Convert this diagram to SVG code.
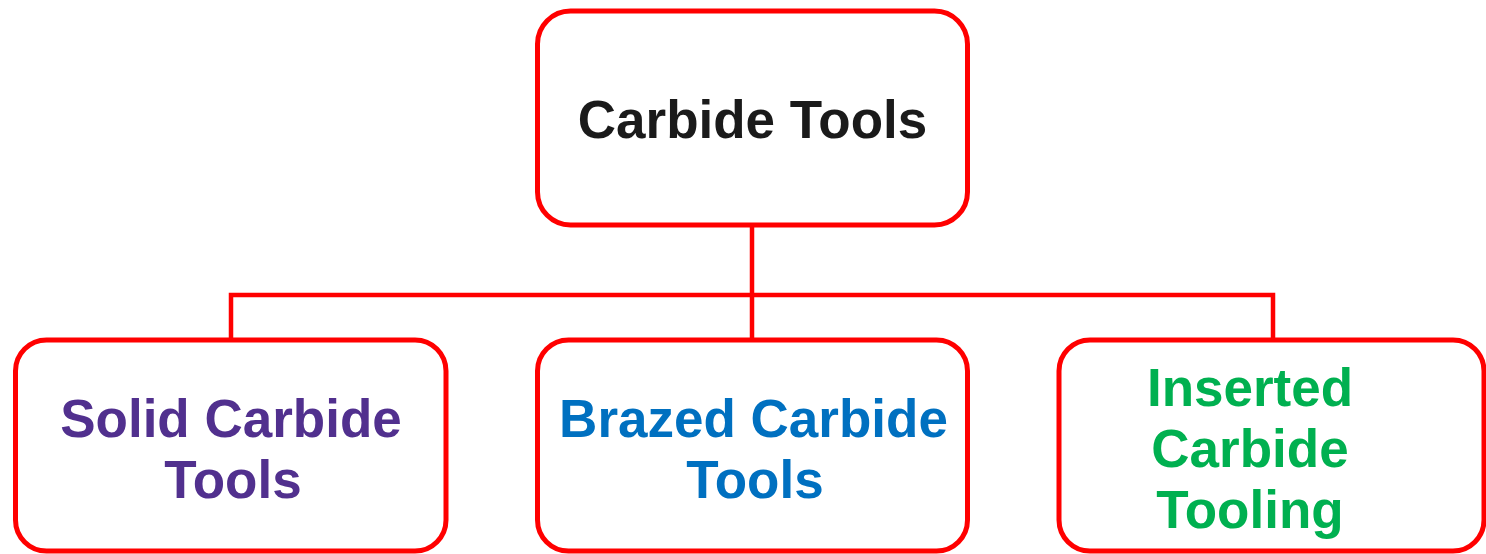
<svg xmlns="http://www.w3.org/2000/svg" width="1486" height="554" viewBox="0 0 1486 554">
<style>
.box{fill:#FFFFFF;stroke:#FF0000;stroke-width:5}
.conn{fill:none;stroke:#FF0000;stroke-width:4.5;stroke-linejoin:miter}
.t{font-family:"Liberation Sans",Arial,sans-serif;font-weight:bold;font-size:53px;text-anchor:middle}
</style>
<rect width="1486" height="554" fill="#FFFFFF"/>
<g id="connectors">
<path class="conn" d="M752,226 V340"/>
<path class="conn" d="M231,340 V295 H1273 V340"/>
</g>
<g id="node-root">
<rect class="box" x="537.5" y="11" width="430" height="214" rx="33" ry="33"/>
<text class="t" x="752.5" y="138" fill="#1A1A1A">Carbide Tools</text>
</g>
<g id="node-solid">
<rect class="box" x="15.5" y="340" width="430.5" height="211" rx="31" ry="31"/>
<text class="t" fill="#51308E"><tspan x="231" y="437">Solid Carbide</tspan><tspan x="233" y="498">Tools</tspan></text>
</g>
<g id="node-brazed">
<rect class="box" x="537.5" y="340" width="430" height="211" rx="31" ry="31"/>
<text class="t" fill="#0070C0"><tspan x="753.5" y="437">Brazed Carbide</tspan><tspan x="755" y="498">Tools</tspan></text>
</g>
<g id="node-inserted">
<rect class="box" x="1059" y="340" width="425" height="211" rx="31" ry="31"/>
<text class="t" fill="#00B050"><tspan x="1250" y="406">Inserted</tspan><tspan x="1250" y="467">Carbide</tspan><tspan x="1250" y="528">Tooling</tspan></text>
</g>
</svg>
